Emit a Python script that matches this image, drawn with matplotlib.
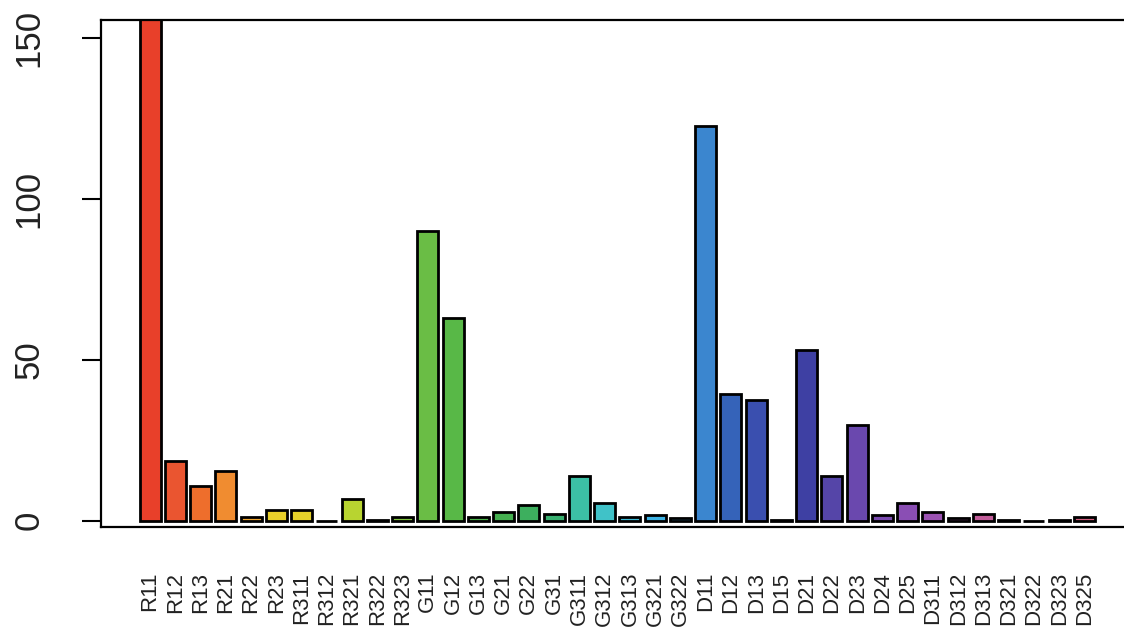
import numpy as np
import matplotlib
matplotlib.use('Agg')
import matplotlib.pyplot as plt

plt.rcParams['font.family'] = ['Liberation Sans', 'DejaVu Sans']

# category labels and counts
labels = ['R11', 'R12', 'R13', 'R21', 'R22', 'R23', 'R311', 'R312', 'R321', 'R322', 'R323',
          'G11', 'G12', 'G13', 'G21', 'G22', 'G31', 'G311', 'G312', 'G313', 'G321', 'G322',
          'D11', 'D12', 'D13', 'D15', 'D21', 'D22', 'D23', 'D24', 'D25',
          'D311', 'D312', 'D313', 'D321', 'D322', 'D323', 'D325']
counts = [157, 18.7, 10.9, 15.3, 1, 3.4, 3.4, 0, 6.8, 0.3, 1,
          90, 63, 1, 2.6, 4.9, 2.1, 13.8, 5.4, 1, 1.9, 0.7,
          122.6, 39.4, 37.6, 0.3, 53, 13.8, 29.6, 1.8, 5.4,
          2.8, 0.8, 2.1, 0.3, 0, 0.2, 1]

colors = ['#E8402A', '#EA5530', '#EE6E2C', '#F08C30', '#F2A832', '#E8CF2A', '#E5D12A', '#D2D42E',
          '#B8D430', '#9CCB38', '#82C43F', '#6ABD45', '#58B847', '#4CB34B', '#45B050', '#3DAF5E',
          '#38B070', '#3CC0A5', '#40C2C8', '#3EBBD6', '#3DB3E5', '#3C9CDA', '#3B86CF', '#3563B9',
          '#3A4FAF', '#3C46A8', '#3E40A3', '#5545A8', '#6A48AE', '#7A4AB0', '#8A4EB4', '#9B52B2',
          '#AE57A8', '#C25D9A', '#C85D92', '#CC5E8C', '#D05F86', '#D46080']

x = np.arange(len(labels)) * 1.2 + 0.7

fig = plt.figure(figsize=(11.24, 6.31), dpi=100)
ax = fig.add_axes([0.0899, 0.1653, 0.9217, 0.8030])
ax.bar(x, counts, width=1.0, color=colors, edgecolor='black', linewidth=2)

ax.set_xlim(-1.63, 47.6)
ax.set_ylim(-1.86, 155.6)
ax.set_yticks([0, 50, 100, 150])
ax.set_xticks([])
# category names, end of text toward the axis like R's las=2
for xi, lab in zip(x, labels):
    ax.text(xi, -0.089, lab, transform=ax.get_xaxis_transform(), fontsize=16,
            color='#222222', rotation=90, rotation_mode='anchor', ha='right', va='center')

ax.tick_params(axis='y', length=14, width=1.5, pad=26, labelsize=25, labelcolor='#222222')
for t in ax.get_yticklabels():
    t.set_rotation(90)
    t.set_va('center')

for s in ax.spines.values():
    s.set_linewidth(1.6)
ax.spines['right'].set_visible(False)

fig.savefig('out.png', dpi=100)
